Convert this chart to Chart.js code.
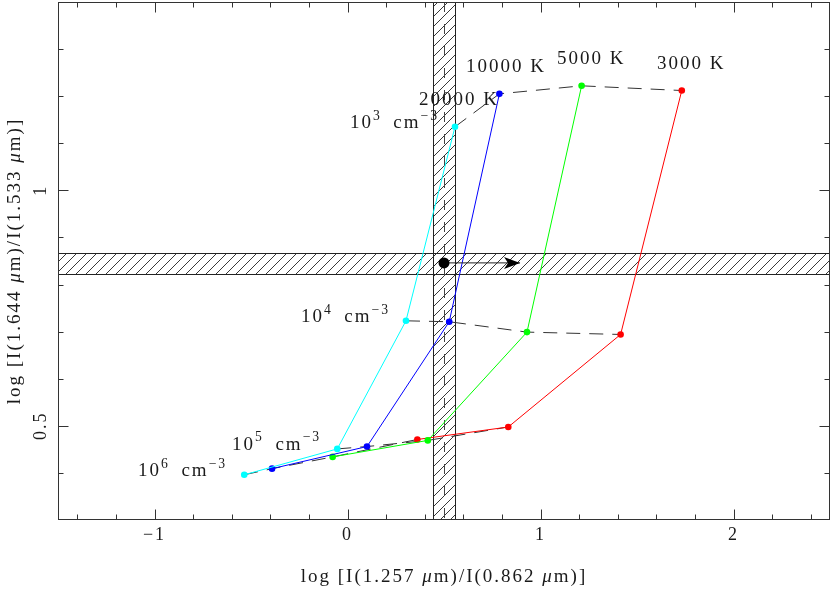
<!DOCTYPE html>
<html>
<head>
<meta charset="utf-8">
<script src="https://cdn.jsdelivr.net/npm/chart.js@4.4.0/dist/chart.umd.min.js"></script>
<style>
html,body{margin:0;padding:0;background:#fff;}
#wrap{width:830px;height:589px;}
</style>
</head>
<body>
<div id="wrap"><canvas id="chart" width="830" height="589"></canvas></div>
<script>
// model grid, one point per density: 1e3, 1e4, 1e5, 1e6 cm^-3
const densityExp = ['3', '4', '5', '6'];
const temps = ['20000 K', '10000 K', '5000 K', '3000 K'];
const colors = ['#00ffff', '#0000ff', '#00ff00', '#ff0000'];

const x20000 = [0.557, 0.303, -0.053, -0.535];
const y20000 = [1.135, 0.723, 0.451, 0.396];
const x10000 = [0.787, 0.527, 0.101, -0.391];
const y10000 = [1.205, 0.721, 0.456, 0.409];
const x5000 = [1.213, 0.930, 0.416, -0.077];
const y5000 = [1.222, 0.699, 0.469, 0.434];
const x3000 = [1.732, 1.415, 0.833, 0.362];
const y3000 = [1.212, 0.694, 0.4975, 0.471];

// observed ratios and their ranges
const obsX = [0.5];
const obsY = [0.846];
const arrowX = [0.5, 0.894];
const bandX = [0.443, 0.557];
const bandY = [0.822, 0.867];

const xTicks = [-1, 0, 1, 2];
const yTicks = [0.5, 1];

const seriesX = [x20000, x10000, x5000, x3000];
const seriesY = [y20000, y10000, y5000, y3000];

// label anchors (data units, left/baseline)
const tempLabelPos = [[0.370, 1.181], [0.614, 1.251], [1.085, 1.268], [1.604, 1.258]];
const densLabelPos = [[0.013, 1.132], [-0.241, 0.720], [-0.598, 0.449], [-1.085, 0.393]];

const FONT = '"Liberation Serif", "DejaVu Serif", serif';
const INK = '#1a1a1a';

let datasets = [];

// observed point first so it is drawn on top
datasets.push({
    data: obsX.map((x, i) => ({x: x, y: obsY[i]})),
    showLine: false,
    pointRadius: 5.5,
    pointBackgroundColor: '#000',
    pointBorderWidth: 0
});
datasets.push({
    data: arrowX.map(x => ({x: x, y: obsY[0]})),
    showLine: true,
    borderColor: '#222',
    borderWidth: 1,
    pointRadius: 0
});

for (let t = 0; t < temps.length; t++) {
    datasets.push({
        data: seriesX[t].map((x, i) => ({x: x, y: seriesY[t][i]})),
        showLine: true,
        borderColor: colors[t],
        borderWidth: 1,
        pointRadius: 3.3,
        pointBackgroundColor: colors[t],
        pointBorderWidth: 0
    });
}

for (let d = 0; d < densityExp.length; d++) {
    datasets.push({
        data: seriesX.map((xs, t) => ({x: xs[d], y: seriesY[t][d]})),
        showLine: true,
        borderColor: '#333',
        borderWidth: 1,
        borderDash: [14, 9],
        pointRadius: 0
    });
}

function hatch(ctx) {
    let c = document.createElement('canvas');
    c.width = 10; c.height = 10;
    let g = c.getContext('2d');
    g.strokeStyle = '#222';
    g.lineWidth = 0.9;
    g.beginPath();
    g.moveTo(0, 10); g.lineTo(10, 0);
    g.moveTo(-2, 2); g.lineTo(2, -2);
    g.moveTo(8, 12); g.lineTo(12, 8);
    g.stroke();
    return ctx.createPattern(c, 'repeat');
}

function rich(ctx, parts, x, y, size, measureOnly) {
    let cx = x;
    for (let p of parts) {
        let s = p.sup ? size * 0.72 : size;
        ctx.font = (p.it ? 'italic ' : '') + s + 'px ' + FONT;
        if (!measureOnly) ctx.fillText(p.t, cx, p.sup ? y - size * 0.45 : y);
        cx += ctx.measureText(p.t).width;
    }
    return cx - x;
}

const bandsPlugin = {
    id: 'bands',
    beforeDatasetsDraw(chart) {
        let {ctx, chartArea: a, scales: {x, y}} = chart;
        ctx.save();
        let pat = hatch(ctx);
        let x0 = x.getPixelForValue(bandX[0]), x1 = x.getPixelForValue(bandX[1]);
        let y0 = y.getPixelForValue(bandY[1]), y1 = y.getPixelForValue(bandY[0]);
        ctx.fillStyle = pat;
        ctx.fillRect(x0, a.top, x1 - x0, a.bottom - a.top);
        ctx.fillRect(a.left, y0, a.right - a.left, y1 - y0);
        ctx.strokeStyle = '#222';
        ctx.lineWidth = 1;
        ctx.beginPath();
        ctx.moveTo(Math.round(x0) + 0.5, a.top); ctx.lineTo(Math.round(x0) + 0.5, a.bottom);
        ctx.moveTo(Math.round(x1) + 0.5, a.top); ctx.lineTo(Math.round(x1) + 0.5, a.bottom);
        ctx.moveTo(a.left, Math.round(y0) + 0.5); ctx.lineTo(a.right, Math.round(y0) + 0.5);
        ctx.moveTo(a.left, Math.round(y1) + 0.5); ctx.lineTo(a.right, Math.round(y1) + 0.5);
        ctx.stroke();
        // dashed centre of the vertical band
        let xc = Math.round(x.getPixelForValue(obsX[0])) + 0.5;
        ctx.setLineDash([10, 12]);
        ctx.strokeStyle = '#444';
        ctx.beginPath();
        ctx.moveTo(xc, a.top); ctx.lineTo(xc, a.bottom);
        ctx.stroke();
        ctx.restore();
    }
};

const framePlugin = {
    id: 'frame',
    afterDraw(chart) {
        let {ctx, chartArea: a, scales: {x, y}} = chart;
        ctx.save();
        ctx.strokeStyle = '#333';
        ctx.lineWidth = 1;
        let L = a.left + 0.5, R = a.right - 0.5, T = a.top + 0.5, B = a.bottom - 0.5;
        ctx.strokeRect(L, T, R - L, B - T);
        ctx.beginPath();
        for (let v = -14; v <= 24; v += 2) {
            let px = Math.round(x.getPixelForValue(v / 10)) + 0.5;
            let len = v % 10 === 0 ? 10 : 5;
            ctx.moveTo(px, B); ctx.lineTo(px, B - len);
            ctx.moveTo(px, T); ctx.lineTo(px, T + len);
        }
        for (let v = 4; v <= 13; v++) {
            let py = Math.round(y.getPixelForValue(v / 10)) + 0.5;
            let len = v % 5 === 0 ? 10 : 5;
            ctx.moveTo(L, py); ctx.lineTo(L + len, py);
            ctx.moveTo(R, py); ctx.lineTo(R - len, py);
        }
        ctx.stroke();

        // arrow head
        let m = chart.getDatasetMeta(1).data;
        let tip = m[m.length - 1];
        ctx.fillStyle = '#000';
        ctx.beginPath();
        ctx.moveTo(tip.x, tip.y);
        ctx.lineTo(tip.x - 16, tip.y - 6);
        ctx.lineTo(tip.x - 12, tip.y);
        ctx.lineTo(tip.x - 16, tip.y + 6);
        ctx.closePath();
        ctx.fill();

        ctx.fillStyle = INK;
        ctx.letterSpacing = '2px';

        // tick labels
        ctx.textAlign = 'center';
        ctx.textBaseline = 'middle';
        ctx.font = '18px ' + FONT;
        for (let v of xTicks) {
            let txt = v < 0 ? '\u2212' + Math.abs(v) : String(v);
            ctx.fillText(txt, x.getPixelForValue(v), 535);
        }
        for (let v of yTicks) {
            ctx.save();
            ctx.translate(41, y.getPixelForValue(v));
            ctx.rotate(-Math.PI / 2);
            ctx.fillText(String(v), 0, 0);
            ctx.restore();
        }

        // axis titles
        ctx.textAlign = 'left';
        let xt = [{t: 'log [I(1.257 '}, {t: '\u03bc', it: true}, {t: 'm)/I(0.862 '}, {t: '\u03bc', it: true}, {t: 'm)]'}];
        let yt = [{t: 'log [I(1.644 '}, {t: '\u03bc', it: true}, {t: 'm)/I(1.533 '}, {t: '\u03bc', it: true}, {t: 'm)]'}];
        let cxm = (a.left + a.right) / 2, cym = (a.top + a.bottom) / 2;
        let w = rich(ctx, xt, 0, 0, 19, true);
        rich(ctx, xt, cxm - w / 2, 577, 19);
        w = rich(ctx, yt, 0, 0, 19, true);
        ctx.save();
        ctx.translate(15, cym);
        ctx.rotate(-Math.PI / 2);
        rich(ctx, yt, -w / 2, 0, 19);
        ctx.restore();

        // in-plot labels
        ctx.textBaseline = 'alphabetic';
        for (let t = 0; t < temps.length; t++) {
            let p = tempLabelPos[t];
            rich(ctx, [{t: temps[t]}], x.getPixelForValue(p[0]), y.getPixelForValue(p[1]), 19);
        }
        for (let d = 0; d < densityExp.length; d++) {
            let p = densLabelPos[d];
            rich(ctx, [{t: '10'}, {t: densityExp[d], sup: true}, {t: '\u2002cm'}, {t: '\u22123', sup: true}],
                x.getPixelForValue(p[0]), y.getPixelForValue(p[1]), 19);
        }
        ctx.restore();
    }
};

new Chart(document.getElementById('chart'), {
    type: 'scatter',
    data: {datasets: datasets},
    options: {
        responsive: false,
        animation: false,
        layout: {autoPadding: false, padding: {left: 58, right: 0, top: 2, bottom: 69}},
        plugins: {legend: {display: false}, tooltip: {enabled: false}},
        scales: {
            x: {type: 'linear', min: -1.5, max: 2.5, display: false},
            y: {type: 'linear', min: 0.3, max: 1.4, display: false}
        }
    },
    plugins: [bandsPlugin, framePlugin]
});
</script>
</body>
</html>
